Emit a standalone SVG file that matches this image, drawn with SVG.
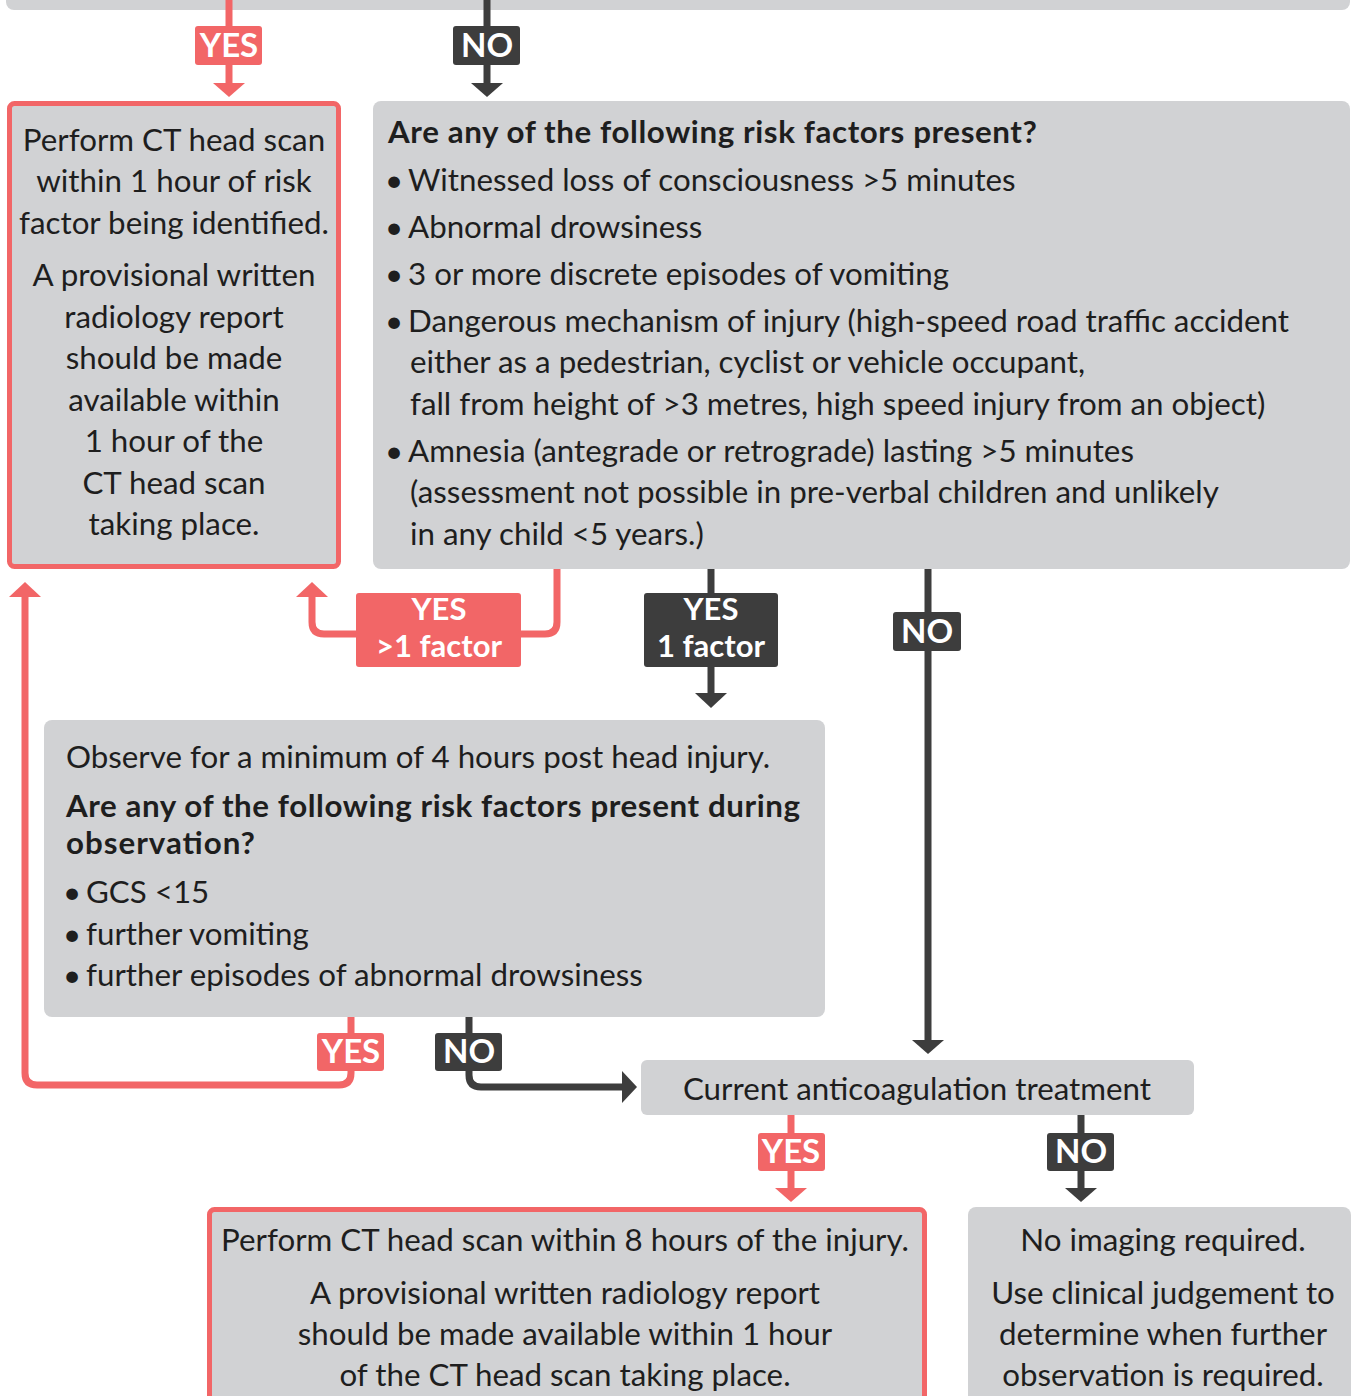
<svg xmlns="http://www.w3.org/2000/svg" width="1356" height="1396" viewBox="0 0 1356 1396">
<style>
.box{fill:#d1d2d4}
.rbox{fill:#d1d2d4;stroke:#f26667;stroke-width:5}
.t{font-family:Lato,"Noto Sans",sans-serif;font-size:31.3px;fill:#1e1e1e}
.b{font-weight:bold}
.c{text-anchor:middle}
.lr{stroke:#f26667;stroke-width:7;fill:none}
.ld{stroke:#3d3d3d;stroke-width:7;fill:none}
.ar{fill:#f26667}
.ad{fill:#3d3d3d}
.lt{font-family:Lato,"Noto Sans",sans-serif;font-size:33px;font-weight:bold;fill:#fff;text-anchor:middle}
.l2{font-size:31px}
</style>
<rect width="1356" height="1396" fill="#fff"/>
<g id="top-box"><rect class="box" x="6" y="-30" width="1344" height="40" rx="8"/></g>
<g id="connectors">
<path class="lr" d="M229,0V84"/><polygon class="ar" points="213,83 245,83 229,97"/>
<path class="ld" d="M487,0V84"/><polygon class="ad" points="471,83 503,83 487,97"/>
<path class="lr" d="M557,569V622Q557,634 545,634H324Q312,634 312,622V596"/><polygon class="ar" points="296,597 328,597 312,582"/>
<path class="ld" d="M711,569V694"/><polygon class="ad" points="695,693 727,693 711,708"/>
<path class="ld" d="M928,569V1041"/><polygon class="ad" points="912,1040 944,1040 928,1054"/>
<path class="lr" d="M351,1017V1073Q351,1085 339,1085H37Q25,1085 25,1073V596"/><polygon class="ar" points="9,597 41,597 25,582"/>
<path class="ld" d="M469,1017V1075Q469,1087 481,1087H624"/><polygon class="ad" points="622,1071 622,1103 637,1087"/>
<path class="lr" d="M791,1115V1189"/><polygon class="ar" points="775,1188 807,1188 791,1202"/>
<path class="ld" d="M1081,1115V1189"/><polygon class="ad" points="1065,1188 1097,1188 1081,1202"/>
<rect class="ar" x="195" y="26" width="67" height="39" rx="3"/><text class="lt" x="229" y="57">YES</text>
<rect class="ad" x="453" y="26" width="67" height="39" rx="3"/><text class="lt" x="487" y="57">NO</text>
<rect class="ar" x="356" y="593" width="165" height="74" rx="3"/><text class="lt l2" x="439" y="620">YES</text><text class="lt l2" x="439" y="657">&gt;1 factor</text>
<rect class="ad" x="644" y="593" width="134" height="74" rx="3"/><text class="lt l2" x="711" y="620">YES</text><text class="lt l2" x="711" y="657">1 factor</text>
<rect class="ad" x="893" y="612" width="68" height="39" rx="3"/><text class="lt" x="927" y="643">NO</text>
<rect class="ar" x="317" y="1033" width="67" height="38" rx="3"/><text class="lt" x="351" y="1063">YES</text>
<rect class="ad" x="435" y="1033" width="67" height="38" rx="3"/><text class="lt" x="469" y="1063">NO</text>
<rect class="ar" x="758" y="1133" width="67" height="38" rx="3"/><text class="lt" x="791" y="1163">YES</text>
<rect class="ad" x="1047" y="1133" width="67" height="38" rx="3"/><text class="lt" x="1081" y="1163">NO</text>
</g>
<g id="ct-1hour">
<rect class="rbox" x="9.5" y="103.5" width="329" height="463" rx="5"/>
<text class="t c" x="174" y="151">Perform CT head scan</text>
<text class="t c" x="174" y="192">within 1 hour of risk</text>
<text class="t c" x="174" y="234">factor being identified.</text>
<text class="t c" x="174" y="286">A provisional written</text>
<text class="t c" x="174" y="328">radiology report</text>
<text class="t c" x="174" y="369">should be made</text>
<text class="t c" x="174" y="411">available within</text>
<text class="t c" x="174" y="452">1 hour of the</text>
<text class="t c" x="174" y="494">CT head scan</text>
<text class="t c" x="174" y="535">taking place.</text>
</g>
<g id="risk-factors">
<rect class="box" x="373" y="101" width="977" height="468" rx="8"/>
<text class="t b" x="388" y="143" textLength="649" lengthAdjust="spacing">Are any of the following risk factors present?</text>
<text class="t" x="385" y="191">•<tspan x="408">Witnessed loss of consciousness &gt;5 minutes</tspan></text>
<text class="t" x="385" y="238">•<tspan x="408">Abnormal drowsiness</tspan></text>
<text class="t" x="385" y="285">•<tspan x="408">3 or more discrete episodes of vomiting</tspan></text>
<text class="t" x="385" y="332">•<tspan x="408">Dangerous mechanism of injury (high-speed road traffic accident</tspan></text>
<text class="t" x="410" y="373">either as a pedestrian, cyclist or vehicle occupant,</text>
<text class="t" x="410" y="415">fall from height of &gt;3 metres, high speed injury from an object)</text>
<text class="t" x="385" y="462">•<tspan x="408">Amnesia (antegrade or retrograde) lasting &gt;5 minutes</tspan></text>
<text class="t" x="410" y="503">(assessment not possible in pre-verbal children and unlikely</text>
<text class="t" x="410" y="545">in any child &lt;5 years.)</text>
</g>
<g id="observe">
<rect class="box" x="44" y="720" width="781" height="297" rx="8"/>
<text class="t" x="66" y="768">Observe for a minimum of 4 hours post head injury.</text>
<text class="t b" x="66" y="817" textLength="734" lengthAdjust="spacing">Are any of the following risk factors present during</text>
<text class="t b" x="66" y="854" textLength="189" lengthAdjust="spacing">observation?</text>
<text class="t" x="63" y="903">•<tspan x="86">GCS &lt;15</tspan></text>
<text class="t" x="63" y="945">•<tspan x="86">further vomiting</tspan></text>
<text class="t" x="63" y="986">•<tspan x="86">further episodes of abnormal drowsiness</tspan></text>
</g>
<g id="anticoag">
<rect class="box" x="641" y="1060" width="553" height="55" rx="6"/>
<text class="t c" x="917" y="1100">Current anticoagulation treatment</text>
</g>
<g id="ct-8hours">
<rect class="rbox" x="209.5" y="1209.5" width="715" height="220" rx="5"/>
<text class="t c" x="565" y="1251">Perform CT head scan within 8 hours of the injury.</text>
<text class="t c" x="565" y="1304">A provisional written radiology report</text>
<text class="t c" x="565" y="1345">should be made available within 1 hour</text>
<text class="t c" x="565" y="1386">of the CT head scan taking place.</text>
</g>
<g id="no-imaging">
<rect class="box" x="968" y="1207" width="383" height="230" rx="8"/>
<text class="t c" x="1163" y="1251">No imaging required.</text>
<text class="t c" x="1163" y="1304">Use clinical judgement to</text>
<text class="t c" x="1163" y="1345">determine when further</text>
<text class="t c" x="1163" y="1386">observation is required.</text>
</g>
</svg>
